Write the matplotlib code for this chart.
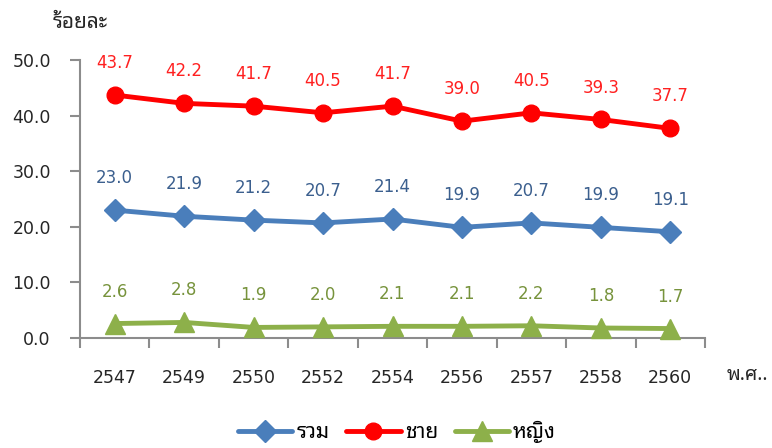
import matplotlib
matplotlib.use("Agg")
import matplotlib.pyplot as plt
from matplotlib.font_manager import FontProperties
import numpy as np

plt.rcParams['font.family'] = ['DejaVu Sans', 'Noto Sans Thai Looped']

years = ["2547", "2549", "2550", "2552", "2554", "2556", "2557", "2558", "2560"]
total = [23.0, 21.9, 21.2, 20.7, 21.4, 19.9, 20.7, 19.9, 19.1]
male = [43.7, 42.2, 41.7, 40.5, 41.7, 39.0, 40.5, 39.3, 37.7]
female = [2.6, 2.8, 1.9, 2.0, 2.1, 2.1, 2.2, 1.8, 1.7]
yticks = [0, 10, 20, 30, 40, 50]
series_names = ["รวม", "ชาย", "หญิง"]
y_title = "ร้อยละ"
x_title = "พ.ศ.."

num_font = "DejaVu Sans"
thai_font = ["Noto Sans Thai Looped", "DejaVu Sans"]

fig = plt.figure(figsize=(7.72, 4.48), dpi=100)
ax = fig.add_axes([80/772, 1-338/448, 625/772, 278/448])

x = np.arange(len(years))
styles = [
    (total, "#4a7ebb", "D", 11, "#3b5f8e"),
    (male, "#ff0000", "o", 12, "#ff2020"),
    (female, "#8db04a", "^", 14, "#77933c"),
]
handles = []
for (vals, col, mk, ms, lc), name in zip(styles, series_names):
    h, = ax.plot(x, vals, color=col, lw=3.5, marker=mk, ms=ms, label=name,
                 solid_capstyle='round', clip_on=False, zorder=3)
    handles.append(h)
    for xi, v in zip(x, vals):
        ax.annotate(f"{v:.1f}", (xi, v), xytext=(0, 23), textcoords="offset points",
                    ha="center", va="center", color=lc, fontsize=12, family=num_font)

ax.set_xlim(-0.5, len(years) - 0.5)
ax.set_ylim(0, 50)
ax.set_yticks(yticks)
ax.set_yticklabels([f"{t:.1f}" for t in yticks], family=num_font)
ax.set_xticks(x)
ax.set_xticklabels(years, family=num_font)
ax.set_xticks(np.arange(-0.5, len(years)), minor=True)
ax.tick_params(axis='x', which='major', length=0, pad=22, labelsize=12.5, labelcolor="#262626")
ax.tick_params(axis='x', which='minor', length=7, width=1.5, color="#8c8c8c", direction='out')
ax.tick_params(axis='y', which='major', length=7, width=1.5, color="#8c8c8c", pad=14,
               labelsize=12.5, labelcolor="#262626")
for s in ["top", "right"]:
    ax.spines[s].set_visible(False)
for s in ["left", "bottom"]:
    ax.spines[s].set_color("#8c8c8c")
    ax.spines[s].set_linewidth(1.5)

fig.text(80/772, 1-22/448, y_title, ha="center", va="center", fontsize=15,
         color="#262626", fontweight="bold", family=thai_font)
fig.text(747/772, 1-375/448, x_title, ha="center", va="center", fontsize=14,
         color="#262626", family=thai_font)

fig.legend(handles=handles, loc="center", bbox_to_anchor=(397/772, 1-432/448), ncol=3,
           frameon=False, prop=FontProperties(family=thai_font, size=15),
           handlelength=2.6, columnspacing=0.8, handletextpad=0.2)

fig.savefig("out.png", dpi=100)
